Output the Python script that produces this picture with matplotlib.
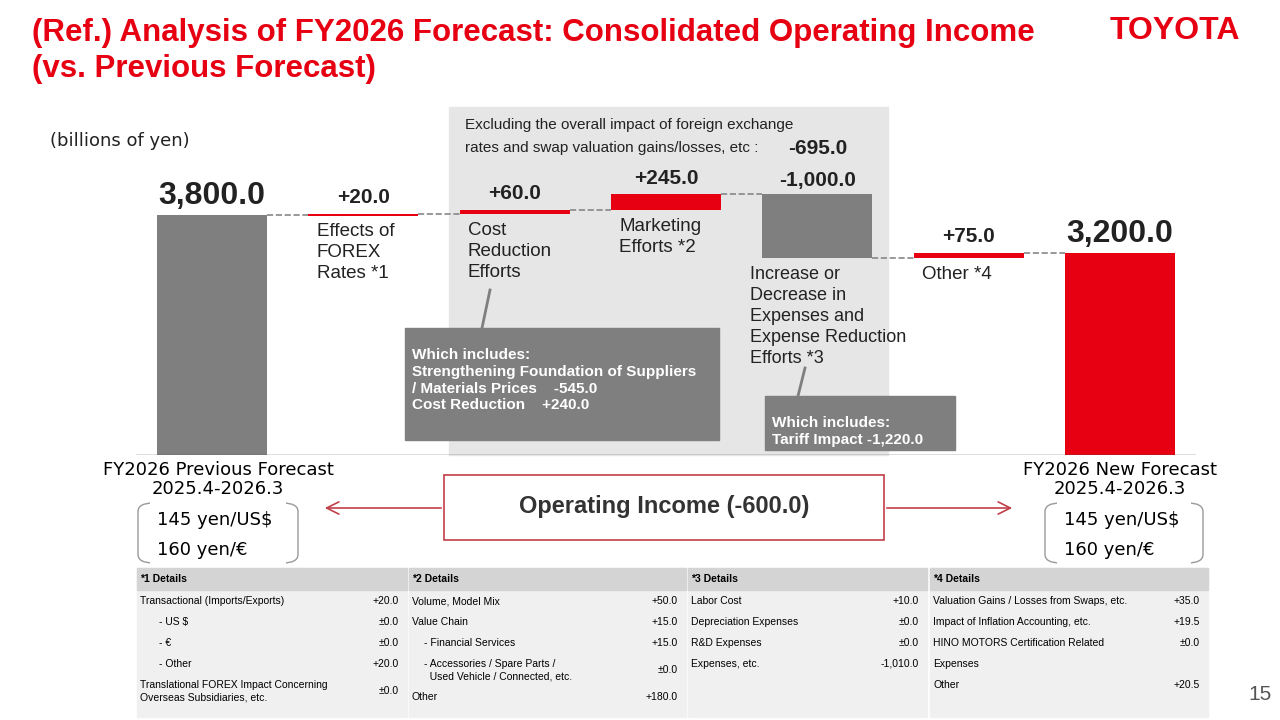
import matplotlib
matplotlib.use("Agg")
import matplotlib.pyplot as plt
from matplotlib.patches import Rectangle, FancyBboxPatch

plt.rcParams["font.family"] = "Liberation Sans"

# ---- data ----
categories = ["FY2026 Previous Forecast", "Effects of FOREX Rates *1", "Cost Reduction Efforts",
              "Marketing Efforts *2", "Increase or Decrease in Expenses", "Other *4", "FY2026 New Forecast"]
start_value = 3800.0
deltas = [20.0, 60.0, 245.0, -1000.0, 75.0]
end_value = 3200.0
value_labels = ["3,800.0", "+20.0", "+60.0", "+245.0", "-1,000.0", "+75.0", "3,200.0"]
bar_texts = ["", "Effects of\nFOREX\nRates *1", "Cost\nReduction\nEfforts", "Marketing\nEfforts *2",
             "Increase or\nDecrease in\nExpenses and\nExpense Reduction\nEfforts *3", "Other *4", ""]

t1 = [("Transactional (Imports/Exports)", "+20.0"), ("- US $", "±0.0"), ("- €", "±0.0"),
      ("- Other", "+20.0"), ("Translational FOREX Impact Concerning\nOverseas Subsidiaries, etc.", "±0.0")]
t2 = [("Volume, Model Mix", "+50.0"), ("Value Chain", "+15.0"), ("- Financial Services", "+15.0"),
      ("- Accessories / Spare Parts /\n  Used Vehicle / Connected, etc.", "±0.0"), ("Other", "+180.0")]
t3 = [("Labor Cost", "+10.0"), ("Depreciation Expenses", "±0.0"), ("R&D Expenses", "±0.0"),
      ("Expenses, etc.", "-1,010.0")]
t4 = [("Valuation Gains / Losses from Swaps, etc.", "+35.0"), ("Impact of Inflation Accounting, etc.", "+19.5"),
      ("HINO MOTORS Certification Related", "±0.0"), ("Expenses", ""), ("Other", "+20.5")]

RED = "#e60012"
GREY = "#7f7f7f"
W, H = 1280, 720
fig = plt.figure(figsize=(12.8, 7.2), dpi=100)

def fx(x): return x / W
def fy(y): return 1 - y / H
def txt(x, y, s, **kw):
    kw.setdefault("va", "top")
    fig.text(fx(x), fy(y), s, **kw)

# shaded region (behind axes)
fig.patches.append(Rectangle((fx(449), fy(455)), fx(888) - fx(449), fy(107) - fy(455),
                             transform=fig.transFigure, color="#e6e6e6", zorder=-1))

# waterfall axes
ppu = 240 / 3800
ymax = 4500
top_px = 455 - ymax * ppu
left = 212 - 151.3 / 2
right = 1120 + 151.3 / 2
ax = fig.add_axes([fx(left), fy(455), fx(right) - fx(left), fy(top_px) - fy(455)])
ax.set_xlim(-0.5, 6.5)
ax.set_ylim(0, ymax)
ax.axis("off")
ax.patch.set_alpha(0)

bw = 0.727
ax.bar(0, start_value, width=bw, color=GREY)
ax.bar(6, end_value, width=bw, color=RED)
levels = [start_value]
cur = start_value
for i, d in enumerate(deltas):
    nxt = cur + d
    color = RED if d > 0 else GREY
    ax.bar(i + 1, abs(d) if abs(d) > 30 else 30, bottom=min(cur, nxt) if abs(d) > 30 else cur - 15,
           width=bw, color=color)
    levels.append(nxt)
    cur = nxt
for i, lv in enumerate(levels):
    ax.plot([i + bw / 2, i + 1 - bw / 2], [lv, lv], ls="--", color="#888888", lw=1.2)
ax.axhline(0, color="#555555", lw=1)

# value labels
tops = [start_value, 3820, 3880, 4125, 4125, 3200, end_value]
for i, (lab, tp) in enumerate(zip(value_labels, tops)):
    big = i in (0, 6)
    ax.annotate(lab, (i, tp), xytext=(0, 3 if i in (0, 4, 6) else 5), textcoords="offset points",
                ha="center", va="bottom",
                fontsize=23 if big else 15, fontweight="bold", color="#222222")
for i, t in enumerate(bar_texts):
    if not t:
        continue
    lvl = min(levels[i - 1], levels[i])
    dx = -9 if i == 4 else 6
    ax.annotate(t, (i - bw / 2, lvl), xytext=(dx, -6), textcoords="offset points", ha="left", va="top",
                fontsize=13 if i == 4 else 13.5, color="#222222", linespacing=1.3)

# title
txt(32, 18, "(Ref.) Analysis of FY2026 Forecast: Consolidated Operating Income\n(vs. Previous Forecast)",
    fontsize=22.5, fontweight="bold", color=RED, linespacing=1.25)
txt(1110, 16, "TOYOTA", fontsize=23, fontweight="bold", color=RED)
txt(1248, 685, "15", fontsize=15, color="#555555")
txt(50, 132, "(billions of yen)", fontsize=13, color="#222222", fontfamily="DejaVu Sans")
txt(465, 118, "Excluding the overall impact of foreign exchange\nrates and swap valuation gains/losses, etc :",
    fontsize=11, color="#222222", linespacing=1.8)
txt(788, 139, "-695.0", fontsize=15, fontweight="bold", color="#222222")

# callout boxes
def callout(x0, y0, x1, y1, s, lx0, ly0, lx1, ly1):
    fig.patches.append(Rectangle((fx(x0), fy(y1)), fx(x1) - fx(x0), fy(y0) - fy(y1),
                                 transform=fig.transFigure, color=GREY, zorder=3))
    fig.add_artist(plt.Line2D([fx(lx0), fx(lx1)], [fy(ly0), fy(ly1)], color=GREY, lw=2, zorder=3))
    txt(x0 + 7, y0 + 20, s, fontsize=11, fontweight="bold", color="white", zorder=4, linespacing=1.25)

callout(405, 328, 719, 440, "Which includes:\nStrengthening Foundation of Suppliers\n/ Materials Prices    -545.0\nCost Reduction    +240.0",
        490, 290, 482, 328)
callout(765, 396, 955, 450, "Which includes:\nTariff Impact -1,220.0", 805, 368, 798, 396)

# category labels
txt(218, 461, "FY2026 Previous Forecast\n2025.4-2026.3", fontsize=13, ha="center", fontfamily="DejaVu Sans", linespacing=1.1)
txt(1120, 461, "FY2026 New Forecast\n2025.4-2026.3", fontsize=13, ha="center", fontfamily="DejaVu Sans", linespacing=1.1)
for (a, b) in ((138, 298), (1045, 1203)):
    fig.patches.append(FancyBboxPatch((fx(a), fy(563)), fx(b) - fx(a), fy(503) - fy(563),
                                      boxstyle="round,pad=0,rounding_size=0.012", transform=fig.transFigure,
                                      fill=False, ec="#999999", lw=1))
    fig.patches.append(Rectangle((fx(a + 12), fy(565)), fx(b - 12) - fx(a + 12), fy(501) - fy(565),
                                 transform=fig.transFigure, color="white", ec="none", zorder=2))
for x in (157, 1064):
    txt(x, 511, "145 yen/US$", fontsize=13, fontfamily="DejaVu Sans", zorder=5)
    txt(x, 541, "160 yen/€", fontsize=13, fontfamily="DejaVu Sans", zorder=5)

fig.patches.append(Rectangle((fx(444), fy(540)), fx(884) - fx(444), fy(475) - fy(540),
                             transform=fig.transFigure, fill=False, ec="#c0404a", lw=1.2))
txt(664, 495, "Operating Income (-600.0)", fontsize=17, fontweight="bold", ha="center", color="#333333")
for (xa, xb) in ((444, 322), (884, 1015)):
    fig.add_artist(plt.Annotation("", xy=(fx(xb), fy(508)), xytext=(fx(xa), fy(508)),
                                  xycoords="figure fraction",
                                  arrowprops=dict(arrowstyle="->", color="#c0404a", lw=1.2, mutation_scale=22)))

# tables
cols = [(137, 407, "*1 Details", t1), (409, 686, "*2 Details", t2),
        (688, 927, "*3 Details", t3), (930, 1208, "*4 Details", t4)]
for x0, x1, head, rows in cols:
    fig.patches.append(Rectangle((fx(x0), fy(717)), fx(x1) - fx(x0), fy(568) - fy(717),
                                 transform=fig.transFigure, color="#f0f0f0", zorder=-1))
    fig.patches.append(Rectangle((fx(x0), fy(590)), fx(x1) - fx(x0), fy(568) - fy(590),
                                 transform=fig.transFigure, color="#d4d4d4", zorder=-1))
    txt(x0 + 3, 574, head, fontsize=7.5, fontweight="bold")
    y = 596
    for lab, val in rows:
        indent = 22 if lab.startswith("-") and head != "*2 Details" else (15 if lab.startswith("-") else 3)
        txt(x0 + indent, y, lab, fontsize=7.5, linespacing=1.3)
        multi = "\n" in lab
        txt(x1 - 8, y + (6 if multi else 0), val, fontsize=7.5, ha="right")
        y += 21 + (12 if multi else 0)

fig.savefig("out.png", dpi=100)
